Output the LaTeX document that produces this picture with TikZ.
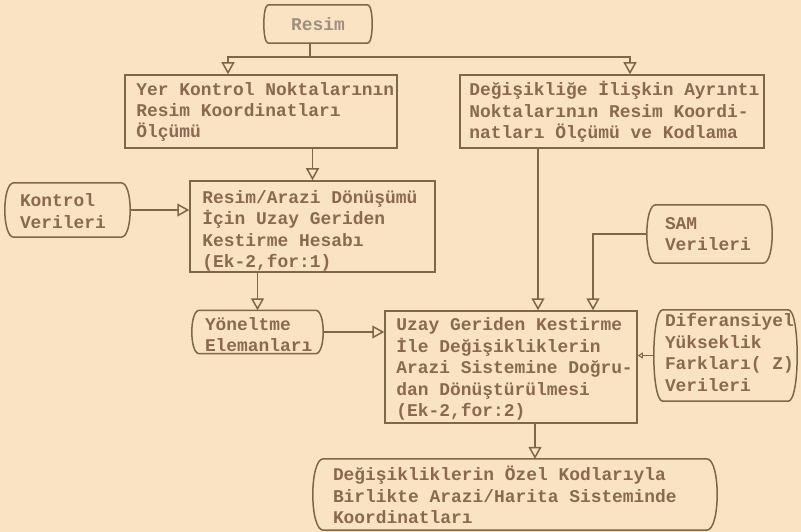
\documentclass[tikz,border=0pt]{standalone}
\usepackage{fontspec}
\setmonofont{Liberation Mono}
\usetikzlibrary{arrows.meta,calc}
\definecolor{paper}{HTML}{FAE3C3}
\definecolor{ink}{HTML}{7C6749}
\definecolor{typed}{HTML}{8A6950}
\definecolor{faded}{HTML}{A08E80}
\begin{document}
\begin{tikzpicture}[x=1pt,y=-1pt,
  label text/.style={font=\ttfamily\bfseries\fontsize{17.9}{21.4}\selectfont, text=typed,
    align=left, inner sep=0pt, anchor=west},
  box/.style={draw=ink, line width=1.5pt, inner sep=0pt},
  term/.style={draw=none, inner sep=0pt},
  arr/.style={draw=ink, line width=1.5pt, -{Triangle[open,length=12pt,width=13pt,line width=1.5pt]}},
  link/.style={draw=ink, line width=1.5pt},
  outline/.style={draw=ink, line width=1.5pt}]
\fill[paper] (0,0) rectangle (801,532);
\useasboundingbox (0,0) rectangle (801,532);

% frames: centre, width, height (bowed frames: width between the straight edges)
\node[term, minimum width=99pt, minimum height=38pt] (resim) at (318,24) {};
\node[box, minimum width=272pt, minimum height=73pt] (yer) at (261,111.5) {};
\node[box, minimum width=304pt, minimum height=73pt] (deg) at (612,111.5) {};
\node[term, minimum width=107pt, minimum height=54pt] (kontrol) at (67.5,210) {};
\node[box, minimum width=245pt, minimum height=91pt] (ra) at (312.5,226.5) {};
\node[term, minimum width=107pt, minimum height=58pt] (sam) at (709.5,234) {};
\node[term, minimum width=116pt, minimum height=43pt] (yon) at (257.5,332) {};
\node[box, minimum width=252pt, minimum height=112pt] (uzay) at (511,367) {};
\node[term, minimum width=125pt, minimum height=91pt] (dif) at (725.5,355.5) {};
\node[term, minimum width=383pt, minimum height=71pt] (son) at (515,494.5) {};

% typed texts (yshift is in page units: negative moves down)
\node[label text, anchor=center, text=faded] (resim-t) at (resim.center) {Resim};
\node[label text] (yer-t) at ([xshift=12pt,yshift=-0.5pt]yer.west)
  {Yer Kontrol Noktalarının\\Resim Koordinatları\\Ölçümü};
\node[label text] (deg-t) at ([xshift=10pt,yshift=-0.5pt]deg.west)
  {Değişikliğe İlişkin Ayrıntı\\Noktalarının Resim Koordi-\\natları Ölçümü ve Kodlama};
\node[label text] (kontrol-t) at ([xshift=6pt,yshift=-1pt]kontrol.west)
  {Kontrol\\Verileri};
\node[label text] (ra-t) at ([xshift=13pt,yshift=-4.5pt]ra.west)
  {Resim/Arazi Dönüşümü\\İçin Uzay Geriden\\Kestirme Hesabı\\(Ek-2,for:1)};
\node[label text] (sam-t) at ([xshift=9pt]sam.west)
  {SAM\\Verileri};
\node[label text] (yon-t) at ([xshift=5.5pt,yshift=-2.5pt]yon.west)
  {Yöneltme\\Elemanları};
\node[label text] (uzay-t) at ([xshift=12pt,yshift=-2pt]uzay.west)
  {Uzay Geriden Kestirme\\İle Değişikliklerin\\Arazi Sistemine Doğru-\\dan Dönüştürülmesi\\(Ek-2,for:2)};
\node[label text] (dif-t) at ([xshift=2pt,yshift=3pt]dif.west)
  {Diferansiyel\\Yükseklik\\Farkları( Z)\\Verileri};
\node[label text] (son-t) at ([xshift=9.5pt,yshift=-0.5pt]son.west)
  {Değişikliklerin Özel Kodlarıyla\\Birlikte Arazi/Harita Sisteminde\\Koordinatları};

% outlines with bowed ends for data / terminal frames
\foreach \n/\k in {resim/6,kontrol/12,sam/12,yon/10,dif/12,son/14}{
  \draw[outline] (\n.north west) -- (\n.north east)
    .. controls ($(\n.north east)+(\k,0)$) and ($(\n.south east)+(\k,0)$) .. (\n.south east)
    -- (\n.south west)
    .. controls ($(\n.south west)+(-\k,0)$) and ($(\n.north west)+(-\k,0)$) .. (\n.north west) -- cycle;
}

% connectors
\coordinate (split) at ([xshift=-8pt,yshift=-14pt]resim.south);
\draw[link] ([xshift=-8pt]resim.south) -- (split);
\draw[arr] (split) -| ([xshift=-33pt]yer.north);
\draw[arr] (split) -| ([xshift=18pt]deg.north);
\draw[arr] (ra.north |- yer.south) -- (ra.north);
\draw[arr] ([xshift=9pt]kontrol.east) -- (kontrol.east -| ra.west);
\draw[arr] (yon.north |- ra.south) -- (yon.north);
\draw[arr] ([xshift=7.5pt]yon.east) -- (yon.east -| uzay.west);
\coordinate (inA) at ([xshift=27pt]uzay.north);
\coordinate (inB) at ([xshift=82pt]uzay.north);
\draw[arr] (inA |- deg.south) -- (inA);
\draw[arr] ([xshift=-9pt]sam.west) -| (inB);
\draw[link, -{Triangle[open,length=5pt,width=6pt,line width=1pt]}] ([xshift=-9pt]dif.west) -- (dif.west -| uzay.east);
\coordinate (outC) at ([xshift=24pt]uzay.south);
\draw[arr] (outC) -- (outC |- son.north);
\end{tikzpicture}
\end{document}
